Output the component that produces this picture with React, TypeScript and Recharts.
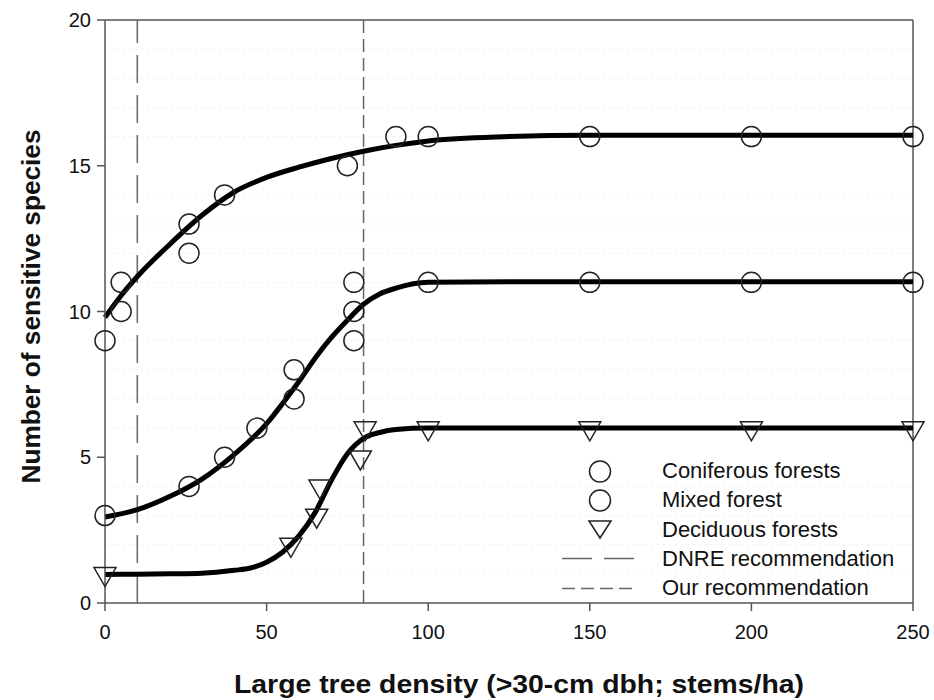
import React from 'react';
import { ComposedChart, Line, Scatter, XAxis, YAxis, ReferenceLine, Legend } from 'recharts';

const FONT = '"Liberation Sans", Arial, Helvetica, sans-serif';

const xTicks = [0, 50, 100, 150, 200, 250];
const yTicks = [0, 5, 10, 15, 20];
const gridLevels = [1, 2, 3, 4, 6, 7, 8, 9, 11, 12, 13, 14, 16, 17, 18, 19];

const dnreX = 10;
const ourX = 80;

// observed points
const coniferousX = [0, 5, 5, 26, 26, 37, 75, 90, 100, 150, 200, 250];
const coniferousY = [9, 10, 11, 12, 13, 14, 15, 16, 16, 16, 16, 16];

const mixedX = [0, 26, 37, 47, 58.5, 58.5, 77, 77, 77, 100, 150, 200, 250];
const mixedY = [3, 4, 5, 6, 7, 8, 9, 10, 11, 11, 11, 11, 11];

const deciduousX = [0, 57.5, 65.5, 66.5, 79, 80.5, 100, 150, 200, 250];
const deciduousY = [1, 2, 3, 4, 5, 6, 6, 6, 6, 6];

// fitted curves
const coniferousFitX = [0, 5, 10, 20, 30, 40, 50, 60, 70, 80, 90, 100, 125, 150, 200, 250];
const coniferousFitY = [9.8, 10.55, 11.2, 12.3, 13.3, 14.1, 14.6, 14.95, 15.25, 15.5, 15.7, 15.85, 16.0, 16.05, 16.05, 16.05];

const mixedFitX = [0, 10, 20, 30, 40, 50, 55, 60, 65, 70, 75, 80, 85, 90, 100, 125, 150, 200, 250];
const mixedFitY = [2.95, 3.2, 3.65, 4.25, 5.1, 6.15, 6.85, 7.6, 8.4, 9.1, 9.7, 10.25, 10.6, 10.8, 11.0, 11.02, 11.02, 11.02, 11.02];

const deciduousFitX = [0, 10, 20, 30, 40, 45, 50, 55, 60, 65, 70, 75, 80, 85, 90, 100, 150, 200, 250];
const deciduousFitY = [0.98, 0.99, 1.0, 1.02, 1.12, 1.2, 1.4, 1.75, 2.3, 3.1, 4.2, 5.12, 5.65, 5.85, 5.95, 6.0, 6.0, 6.0, 6.0];

const legendLabels = [
  'Coniferous forests',
  'Mixed forest',
  'Deciduous forests',
  'DNRE recommendation',
  'Our recommendation',
];

const toPoints = (xs: number[], ys: number[]) => xs.map((x, i) => ({ x, y: ys[i] }));

const AXIS = '#555';
const MARK = '#222';

const CircleMark = (props: any) => (
  <circle cx={props.cx} cy={props.cy} r={10} fill="none" stroke={MARK} strokeWidth={1.5} />
);

const TriangleMark = (props: any) => {
  const { cx, cy } = props;
  const h = 19;
  const w = 11;
  const pts = `${cx - w},${cy - h / 3} ${cx + w},${cy - h / 3} ${cx},${cy + (2 * h) / 3}`;
  return <polygon points={pts} fill="none" stroke={MARK} strokeWidth={1.5} strokeLinejoin="miter" />;
};

const LegendIcon = ({ index }: { index: number }) => {
  if (index === 0 || index === 1) {
    return <circle cx={43} cy={14.5} r={10.5} fill="none" stroke={MARK} strokeWidth={1.5} />;
  }
  if (index === 2) {
    return <polygon points="32,6 54,6 43,23" fill="none" stroke={MARK} strokeWidth={1.5} />;
  }
  const dash = index === 3 ? '30 12' : '13 6';
  return <line x1={5} x2={77} y1={14.5} y2={14.5} stroke="#666" strokeWidth={1.5} strokeDasharray={dash} />;
};

const LegendContent = () => (
  <div style={{ fontFamily: FONT, fontSize: 22, color: '#111', lineHeight: 1 }}>
    {legendLabels.map((label, i) => (
      <div key={label} style={{ display: 'flex', alignItems: 'center', height: 29.25 }}>
        <svg width={85} height={29}>
          <LegendIcon index={i} />
        </svg>
        <span style={{ marginLeft: 20 }}>{label}</span>
      </div>
    ))}
  </div>
);

const XTitle = (props: any) => {
  const { x, y, width, height } = props.viewBox;
  return (
    <text
      x={x + width / 2 + 10}
      y={y + height - 7}
      textAnchor="middle"
      fontFamily={FONT}
      fontWeight="bold"
      fontSize={26}
      fill="#111"
      textLength={570}
      lengthAdjust="spacingAndGlyphs"
    >
      Large tree density (&gt;30-cm dbh; stems/ha)
    </text>
  );
};

const YTitle = (props: any) => {
  const { y, height } = props.viewBox;
  const cx = 40;
  const cy = y + height / 2 - 5;
  return (
    <text
      x={cx}
      y={cy}
      transform={`rotate(-90, ${cx}, ${cy})`}
      textAnchor="middle"
      fontFamily={FONT}
      fontWeight="bold"
      fontSize={26}
      fill="#111"
      textLength={354}
      lengthAdjust="spacingAndGlyphs"
    >
      Number of sensitive species
    </text>
  );
};

export default function App() {
  const tickStyle = { fontFamily: FONT, fontSize: 20, fill: '#111' };
  return (
    <div style={{ position: 'absolute', left: 0, top: 0, background: '#fff' }}>
      <ComposedChart width={934} height={700} margin={{ top: 20, right: 21, bottom: 0, left: 0 }}>
        <XAxis
          type="number"
          dataKey="x"
          domain={[0, 250]}
          ticks={xTicks}
          stroke={AXIS}
          strokeWidth={1.5}
          tickSize={8}
          tickMargin={14}
          tick={tickStyle}
          height={97}
          label={<XTitle />}
        />
        <YAxis
          type="number"
          dataKey="y"
          domain={[0, 20]}
          ticks={yTicks}
          stroke={AXIS}
          strokeWidth={1.5}
          tickSize={8}
          tickMargin={6}
          tick={tickStyle}
          width={105}
          label={<YTitle />}
        />
        {gridLevels.map((g) => (
          <ReferenceLine key={g} y={g} stroke="#ececec" strokeDasharray="2 4" />
        ))}
        <ReferenceLine y={20} stroke={AXIS} strokeWidth={1.5} />
        <ReferenceLine x={250} stroke={AXIS} strokeWidth={1.5} />
        <ReferenceLine x={dnreX} stroke="#666" strokeWidth={1.5} strokeDasharray="28 12" />
        <ReferenceLine x={ourX} stroke="#666" strokeWidth={1.5} strokeDasharray="13 6" />

        <Line data={toPoints(coniferousFitX, coniferousFitY)} dataKey="y" type="monotone" stroke="#000" strokeWidth={5} dot={false} isAnimationActive={false} legendType="none" />
        <Line data={toPoints(mixedFitX, mixedFitY)} dataKey="y" type="monotone" stroke="#000" strokeWidth={5} dot={false} isAnimationActive={false} legendType="none" />
        <Line data={toPoints(deciduousFitX, deciduousFitY)} dataKey="y" type="monotone" stroke="#000" strokeWidth={5} dot={false} isAnimationActive={false} legendType="none" />

        <Scatter name="Coniferous forests" data={toPoints(coniferousX, coniferousY)} dataKey="y" shape={CircleMark} isAnimationActive={false} />
        <Scatter name="Mixed forest" data={toPoints(mixedX, mixedY)} dataKey="y" shape={CircleMark} isAnimationActive={false} />
        <Scatter name="Deciduous forests" data={toPoints(deciduousX, deciduousY)} dataKey="y" shape={TriangleMark} isAnimationActive={false} />

        <Legend
          layout="horizontal"
          verticalAlign="middle"
          align="center"
          content={<LegendContent />}
          wrapperStyle={{ left: 557, top: 456.5, width: 'auto', height: 'auto' }}
        />
      </ComposedChart>
    </div>
  );
}
